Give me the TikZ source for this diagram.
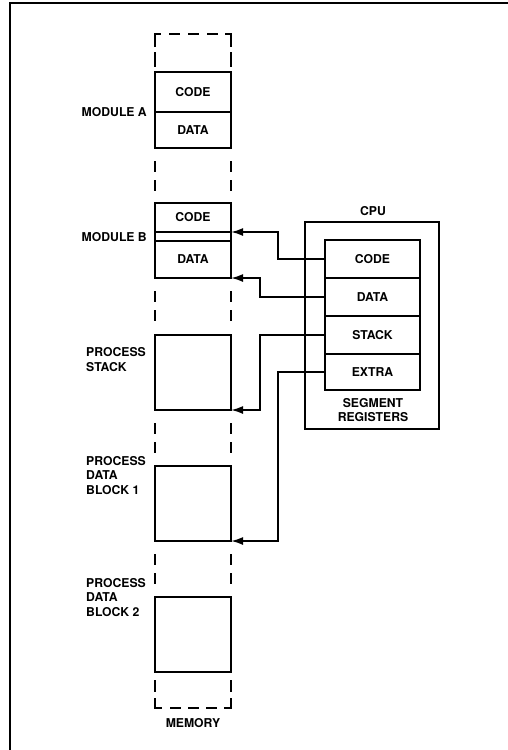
\documentclass[tikz,border=0pt]{standalone}
\usepackage{fontspec}
\setmainfont{TeX Gyre Heros}
\usetikzlibrary{arrows.meta}
\begin{document}
\begin{tikzpicture}[x=1pt,y=-1pt,
  txt/.style={font=\fontsize{12.2}{14.7}\selectfont\bfseries, inner sep=0},
  seg/.style={draw, line width=2.3pt, fill=white, minimum width=76pt, inner sep=0, outer sep=0,
              font=\fontsize{12.2}{14}\selectfont\bfseries},
  reg/.style={draw, line width=2.3pt, minimum width=95pt, inner sep=0, outer sep=0,
              font=\fontsize{12.2}{14}\selectfont\bfseries},
  conn/.style={line width=1.8pt, -{Latex[length=12pt,width=8pt]}},
  memdash/.style={line width=2.3pt}
]
\useasboundingbox (0,0) rectangle (508,750);

% page frame
\draw[line width=1.8pt] (10,750) -- (10,3) -- (508,3);

% memory column: dashed outline, top and bottom caps
\draw[memdash] (155,52) -- (155,67);
\draw[memdash] (155,47) -- (155,34) -- (161,34);
\draw[memdash] (169,34) -- (180,34);
\draw[memdash] (188,34) -- (199,34);
\draw[memdash] (207,34) -- (218,34);
\draw[memdash] (225,34) -- (231,34) -- (231,47);
\draw[memdash] (231,52) -- (231,67);

\draw[memdash] (155,680) -- (155,692);
\draw[memdash] (155,698) -- (155,708) -- (162,708);
\draw[memdash] (170,708) -- (181,708);
\draw[memdash] (188,708) -- (199,708);
\draw[memdash] (206,708) -- (217,708);
\draw[memdash] (224,708) -- (231,708) -- (231,698);
\draw[memdash] (231,680) -- (231,692);

% dashed sides between the segments
\foreach \b in {148,278,410,541} {
  \draw[memdash] (155,{\b+13}) -- (155,{\b+24});
  \draw[memdash] (155,{\b+32}) -- (155,{\b+43});
  \draw[memdash] (231,{\b+13}) -- (231,{\b+24});
  \draw[memdash] (231,{\b+32}) -- (231,{\b+43});
}

% memory segments
\node[seg, minimum height=40pt] (acode) at (193,92) {CODE};
\node[seg, minimum height=36pt] (adata) at (193,130) {DATA};
\node[seg, minimum height=29pt] (bcode) at (193,217.5) {CODE};
\node[seg, minimum height=9pt]  (bgap)  at (193,236.5) {};
\node[seg, minimum height=37pt] (bdata) at (193,259.5) {DATA};
\node[seg, minimum height=75pt] (pstack) at (193,372.5) {};
\node[seg, minimum height=75pt] (pdb1) at (193,503.5) {};
\node[seg, minimum height=75pt] (pdb2) at (193,634.5) {};

% segment labels
\node[txt, anchor=east] (lmoda) at (147,112) {MODULE A};
\node[txt, anchor=east] (lmodb) at (147,237) {MODULE B};
\node[txt, anchor=base west, align=left] (lstack) at (86,371) {PROCESS\\STACK};
\node[txt, anchor=base west, align=left] (lpdb1) at (86,494.5) {PROCESS\\DATA\\BLOCK 1};
\node[txt, anchor=base west, align=left] (lpdb2) at (86,616.5) {PROCESS\\DATA\\BLOCK 2};
\node[txt] (lmem) at (193,723.5) {MEMORY};

% CPU with its segment registers
\node[draw, line width=2.3pt, minimum width=134pt, minimum height=207pt, inner sep=0, outer sep=0]
  (cpu) at (372,325.5) {};
\node[txt] (lcpu) at (373,211) {CPU};
\node[reg, minimum height=38pt] (rcode)  at (372.5,259) {CODE};
\node[reg, minimum height=38pt] (rdata)  at (372.5,297) {DATA};
\node[reg, minimum height=38pt] (rstack) at (372.5,335) {STACK};
\node[reg, minimum height=36pt] (rextra) at (372.5,372) {EXTRA};
\node[txt, align=center] (lseg) at (373,410) {SEGMENT\\REGISTERS};

% register-to-segment pointers
\draw[conn] (rcode.west)  -- ++(-47,0) |- (bgap.north east);
\draw[conn] (rdata.west)  -- ++(-65,0) |- (bdata.south east);
\draw[conn] (rstack.west) -- ++(-65,0) |- (pstack.south east);
\draw[conn] (rextra.west) -- ++(-47,0) |- (pdb1.south east);
\end{tikzpicture}
\end{document}
